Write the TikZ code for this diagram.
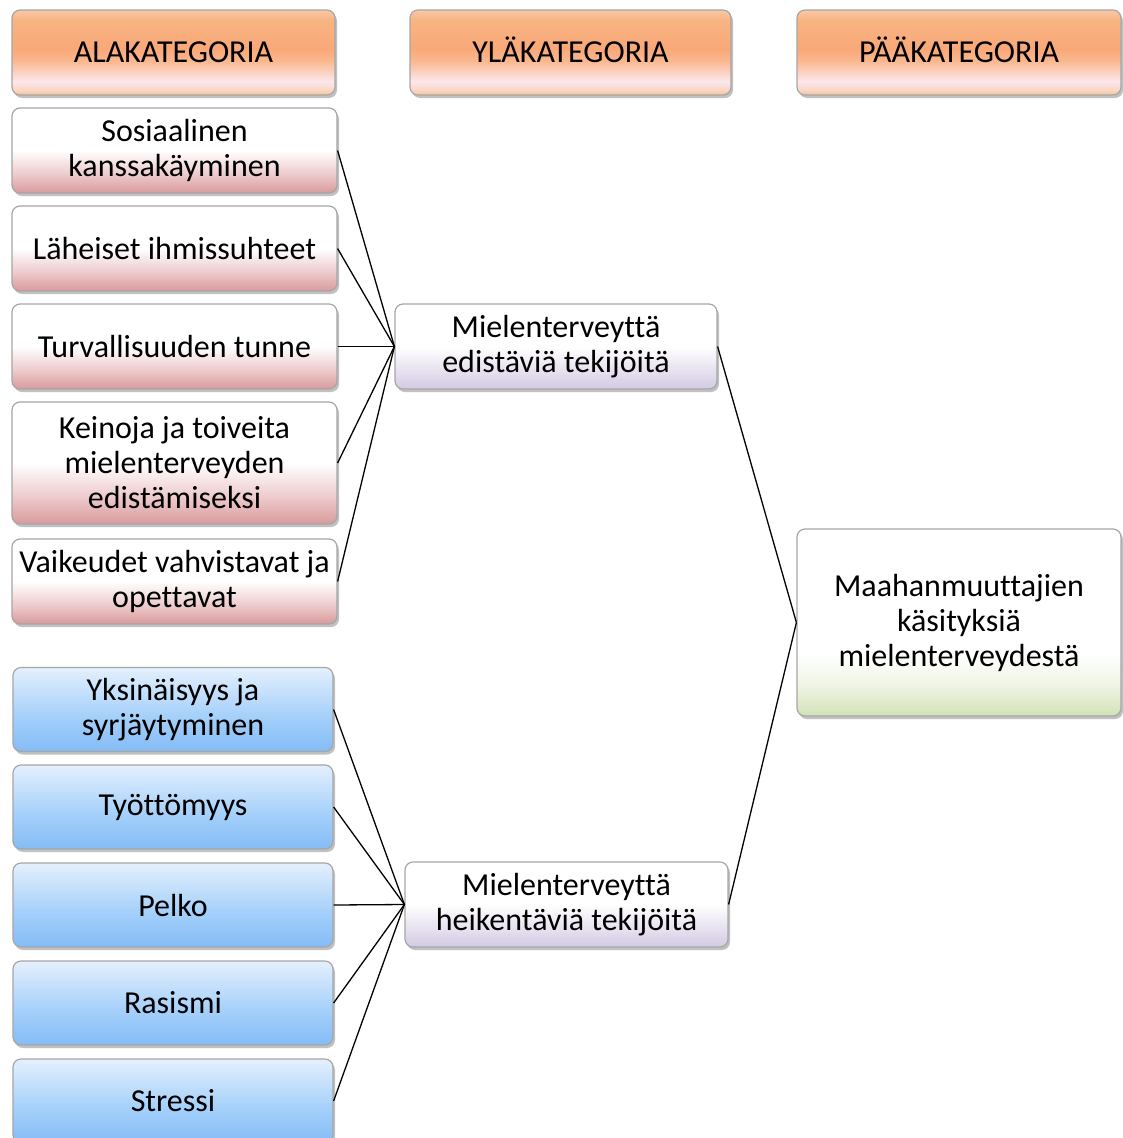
\documentclass[tikz,border=0pt]{standalone}
\usepackage{fontspec}
\setmainfont{Carlito}[RawFeature={-liga;-clig;-calt;-dlig;-rlig}]
\usetikzlibrary{shadows}
\definecolor{hA}{HTML}{F8C292}
\definecolor{hB}{HTML}{FAD6C6}
\definecolor{hC}{HTML}{FCE7EC}
\definecolor{hD}{HTML}{FAB890}
\definecolor{hE}{HTML}{F9A878}
\definecolor{hF}{HTML}{F8B482}
\definecolor{hG}{HTML}{F9C8A4}
\definecolor{rA}{HTML}{D99A9C}
\definecolor{rB}{HTML}{EDCACB}
\definecolor{bA}{HTML}{84BCF6}
\definecolor{bB}{HTML}{A3CFFA}
\definecolor{bC}{HTML}{E4F0FD}
\definecolor{lA}{HTML}{D3CAE3}
\definecolor{gA}{HTML}{D2E2B6}
\definecolor{gB}{HTML}{EEF4E4}
\definecolor{boxgray}{HTML}{A6A6A6}
\pgfdeclareverticalshading{hdrshade}{100bp}{color(0bp)=(hA); color(25bp)=(hA); color(28bp)=(hB); color(33bp)=(hC); color(45bp)=(hD); color(52bp)=(hE); color(69bp)=(hF); color(75bp)=(hG); color(100bp)=(hG)}
\pgfdeclareverticalshading{redshade}{100bp}{color(0bp)=(rA); color(25bp)=(rA); color(36bp)=(rB); color(50bp)=(white); color(75bp)=(white); color(100bp)=(white)}
\pgfdeclareverticalshading{blueshade}{100bp}{color(0bp)=(bA); color(25bp)=(bA); color(45bp)=(bB); color(75bp)=(bC); color(100bp)=(bC)}
\pgfdeclareverticalshading{lavshade}{100bp}{color(0bp)=(lA); color(25bp)=(lA); color(50bp)=(white); color(75bp)=(white); color(100bp)=(white)}
\pgfdeclareverticalshading{greenshade}{100bp}{color(0bp)=(gA); color(25bp)=(gA); color(33bp)=(gB); color(42bp)=(white); color(75bp)=(white); color(100bp)=(white)}
\tikzset{
  box/.style={rounded corners=8pt, draw=boxgray, line width=1.2pt, align=center,
    inner sep=0pt, font=\fontsize{32}{35}\selectfont,
    drop shadow={shadow xshift=2pt, shadow yshift=-3pt, opacity=0.35, fill=black!70}},
  hdr/.style={box, shading=hdrshade, minimum height=85pt, text height=20.6pt, text depth=0pt},
  redbox/.style={box, shading=redshade, minimum width=325pt},
  bluebox/.style={box, shading=blueshade, minimum width=320pt, minimum height=84pt},
  lavbox/.style={box, shading=lavshade, minimum height=85pt},
  greenbox/.style={box, shading=greenshade},
  link/.style={line width=1.3pt, black}
}
\begin{document}
\begin{tikzpicture}[x=1pt,y=-1pt]
\useasboundingbox (0,0) rectangle (1123,1138);
% headers
\node[hdr, minimum width=323pt] (h1) at (173.5,52.5) {ALAKATEGORIA};
\node[hdr, minimum width=321pt] (h2) at (570.5,52.5) {YLÄKATEGORIA};
\node[hdr, minimum width=324pt] (h3) at (959,52.5) {PÄÄKATEGORIA};
% positive subcategories
\node[redbox, minimum height=85pt] (r1) at (174.5,150.5) {Sosiaalinen\\kanssakäyminen};
\node[redbox, minimum height=85pt] (r2) at (174.5,248.5) {Läheiset ihmissuhteet};
\node[redbox, minimum height=85pt] (r3) at (174.5,346.5) {Turvallisuuden tunne};
\node[redbox, minimum height=122pt] (r4) at (174.5,463) {Keinoja ja toiveita\\mielenterveyden\\edistämiseksi};
\node[redbox, minimum height=85pt] (r5) at (174.5,581.5) {Vaikeudet vahvistavat ja\\opettavat};
% negative subcategories
\node[bluebox] (b1) at (173,709.5) {Yksinäisyys ja\\syrjäytyminen};
\node[bluebox] (b2) at (173,807) {Työttömyys};
\node[bluebox] (b3) at (173,905) {Pelko};
\node[bluebox] (b4) at (173,1003) {Rasismi};
\node[bluebox] (b5) at (173,1101) {Stressi};
% upper categories
\node[lavbox, minimum width=322pt] (m1) at (556,346.5) {Mielenterveyttä\\edistäviä tekijöitä};
\node[lavbox, minimum width=323pt] (m2) at (566.5,904.5) {Mielenterveyttä\\heikentäviä tekijöitä};
% main category
\node[greenbox, minimum width=324pt, minimum height=187pt] (p) at (959,622.5) {Maahanmuuttajien\\käsityksiä\\mielenterveydestä};
% connectors
\foreach \n in {r1,r2,r3,r4,r5} \draw[link] (\n.east) -- (m1.west);
\foreach \n in {b1,b2,b3,b4,b5} \draw[link] (\n.east) -- (m2.west);
\draw[link] (m1.east) -- (p.west);
\draw[link] (m2.east) -- (p.west);
\end{tikzpicture}
\end{document}
